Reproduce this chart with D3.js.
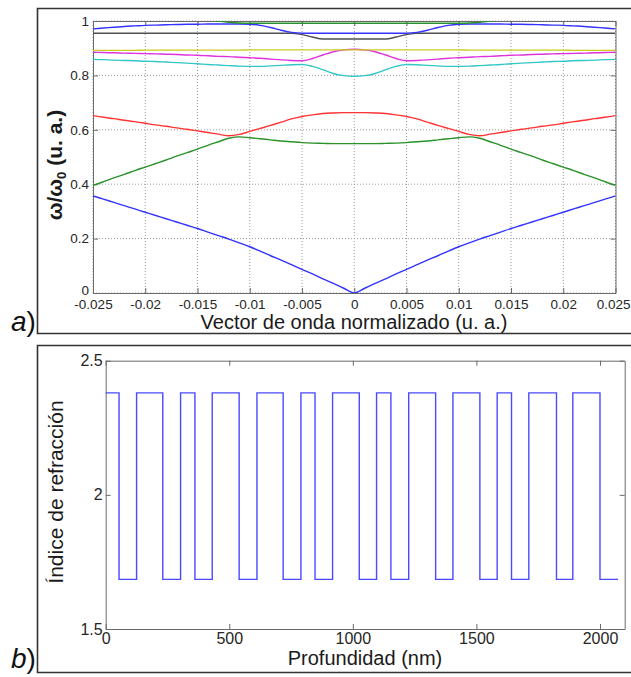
<!DOCTYPE html>
<html>
<head>
<meta charset="utf-8">
<script src="https://cdn.jsdelivr.net/npm/d3@7"></script>
<style>
  html, body { margin: 0; padding: 0; background: #fff; }
  svg { display: block; }
  text { font-family: "Liberation Sans", Arial, sans-serif; }
</style>
</head>
<body>
<svg id="fig" width="631" height="677"></svg>
<script>
// ---------------- DATA ----------------
// (a) dispersion diagram: normalized wave vector and nine bands
const waveVector = [-0.025,-0.024,-0.023,-0.022,-0.021,-0.020,-0.019,-0.018,-0.017,-0.016,-0.015,-0.014,-0.013,-0.012,-0.011,-0.010,-0.009,-0.008,-0.007,-0.006,-0.005,-0.004,-0.003,-0.002,-0.001,0,
  0.001,0.002,0.003,0.004,0.005,0.006,0.007,0.008,0.009,0.010,0.011,0.012,0.013,0.014,0.015,0.016,0.017,0.018,0.019,0.020,0.021,0.022,0.023,0.024,0.025];

const band1 = [0.357,0.345,0.333,0.321,0.309,0.297,0.285,0.273,0.261,0.249,0.237,0.224,0.211,0.198,0.184,0.170,0.154,0.137,0.121,0.104,0.087,0.070,0.052,0.035,0.0175,0,
  0.0175,0.035,0.052,0.070,0.087,0.104,0.121,0.137,0.154,0.170,0.184,0.198,0.211,0.224,0.237,0.249,0.261,0.273,0.285,0.297,0.309,0.321,0.333,0.345,0.357];

const band2 = [0.396,0.409,0.423,0.436,0.450,0.463,0.476,0.489,0.503,0.516,0.529,0.543,0.556,0.569,0.574,0.571,0.567,0.563,0.559,0.556,0.553,0.551,0.550,0.549,0.549,0.549,
  0.549,0.549,0.550,0.551,0.553,0.556,0.559,0.563,0.567,0.571,0.574,0.569,0.556,0.543,0.529,0.516,0.503,0.489,0.476,0.463,0.450,0.436,0.423,0.409,0.396];

const band3 = [0.652,0.646,0.641,0.635,0.630,0.624,0.618,0.613,0.607,0.602,0.596,0.590,0.584,0.578,0.583,0.594,0.605,0.616,0.628,0.640,0.649,0.655,0.660,0.662,0.663,0.663,
  0.663,0.662,0.660,0.655,0.649,0.640,0.628,0.616,0.605,0.594,0.583,0.578,0.584,0.590,0.596,0.602,0.607,0.613,0.618,0.624,0.630,0.635,0.641,0.646,0.652];

const band4 = [0.859,0.858,0.856,0.855,0.854,0.852,0.851,0.849,0.847,0.845,0.843,0.840,0.838,0.836,0.834,0.833,0.833,0.835,0.837,0.839,0.840,0.833,0.821,0.807,0.799,0.797,
  0.799,0.807,0.821,0.833,0.840,0.839,0.837,0.835,0.833,0.833,0.834,0.836,0.838,0.840,0.843,0.845,0.847,0.849,0.851,0.852,0.854,0.855,0.856,0.858,0.859];

const band5 = [0.885,0.884,0.883,0.882,0.881,0.880,0.879,0.878,0.877,0.875,0.874,0.872,0.870,0.869,0.867,0.865,0.863,0.860,0.857,0.855,0.854,0.862,0.875,0.887,0.894,0.896,
  0.894,0.887,0.875,0.862,0.854,0.855,0.857,0.860,0.863,0.865,0.867,0.869,0.870,0.872,0.874,0.875,0.877,0.878,0.879,0.880,0.881,0.882,0.883,0.884,0.885];

const band6 = [0.892,0.892,0.892,0.892,0.892,0.893,0.893,0.893,0.893,0.893,0.893,0.893,0.893,0.893,0.893,0.894,0.894,0.894,0.894,0.894,0.894,0.894,0.894,0.894,0.894,0.894,
  0.894,0.894,0.894,0.894,0.894,0.894,0.894,0.894,0.894,0.894,0.893,0.893,0.893,0.893,0.893,0.893,0.893,0.893,0.893,0.893,0.892,0.892,0.892,0.892,0.892];

const band7 = [0.955,0.955,0.955,0.955,0.955,0.955,0.955,0.955,0.955,0.955,0.955,0.955,0.955,0.955,0.955,0.955,0.955,0.955,0.955,0.955,0.950,0.941,0.934,0.934,0.934,0.934,
  0.934,0.934,0.934,0.941,0.950,0.955,0.955,0.955,0.955,0.955,0.955,0.955,0.955,0.955,0.955,0.955,0.955,0.955,0.955,0.955,0.955,0.955,0.955,0.955,0.955];

const band8 = [0.971,0.974,0.977,0.980,0.982,0.984,0.985,0.986,0.987,0.988,0.988,0.989,0.989,0.989,0.989,0.988,0.984,0.976,0.966,0.958,0.955,0.955,0.955,0.955,0.955,0.955,
  0.955,0.955,0.955,0.955,0.955,0.958,0.966,0.976,0.984,0.988,0.989,0.989,0.989,0.989,0.988,0.988,0.987,0.986,0.985,0.984,0.982,0.980,0.977,0.974,0.971];

const band9 = [null,null,null,null,null,null,null,null,null,null,1.012,1.005,0.9995,0.995,0.9925,0.9915,0.9915,0.9915,0.9915,0.9915,0.9915,0.9915,0.9915,0.9915,0.9915,0.9915,
  0.9915,0.9915,0.9915,0.9915,0.9915,0.9915,0.9915,0.9915,0.9915,0.9915,0.9925,0.995,0.9995,1.005,1.012,null,null,null,null,null,null,null,null,null,null];

const bandColors = ["#3333ff","#2a922a","#ff3333","#33c6c6","#dd33dd","#cccc1a","#505050","#3333ff","#2a922a"];

const xTicksA = [-0.025,-0.02,-0.015,-0.01,-0.005,0,0.005,0.01,0.015,0.02,0.025];
const xTickLabelsA = ["-0.025","-0.02","-0.015","-0.01","-0.005","0","0.005","0.01","0.015","0.02","0.025"];
const yTicksA = [0,0.2,0.4,0.6,0.8,1];
const yTickLabelsA = ["0","0.2","0.4","0.6","0.8","1"];

// (b) refractive index profile: interface depths (nm) and index of each layer
const interfaceDepth = [0,54,125,231,303,361,431,540,612,718,790,847,918,1026,1096,1154,1226,1335,1405,1514,1584,1642,1712,1824,1890,2000,2073];
const layerIndex = [2.38,1.685,2.38,1.685,2.38,1.685,2.38,1.685,2.38,1.685,2.38,1.685,2.38,1.685,2.38,1.685,2.38,1.685,2.38,1.685,2.38,1.685,2.38,1.685,2.38,1.685];

const xTicksB = [0,500,1000,1500,2000];
const xTickLabelsB = ["0","500","1000","1500","2000"];
const yTicksB = [1.5,2,2.5];
const yTickLabelsB = ["1.5","2","2.5"];

// ---------------- DRAWING ----------------
const svg = d3.select("#fig");
svg.append("rect").attr("width",631).attr("height",677).attr("fill","#fff");

const axisColor = "#6a6a6a";
const textColor = "#262626";

// outer frames
function frame(x0,y0,x1,y1){
  svg.append("path")
    .attr("d",`M${x1},${y0}H${x0}V${y1}H${x1}`)
    .attr("fill","none").attr("stroke","#333").attr("stroke-width",1.6);
}
frame(37.5,8.5,631,333.5);
frame(37.5,345.5,631,672.5);

// ===== Panel a =====
const xA = d3.scaleLinear().domain([-0.025,0.025]).range([93,615.5]);
const yA = d3.scaleLinear().domain([0,1]).range([293,21]);

const gA = svg.append("g");
// grid
gA.append("g").selectAll("line").data(xTicksA).join("line")
  .attr("x1",d=>xA(d)).attr("x2",d=>xA(d)).attr("y1",yA(0)).attr("y2",yA(1))
  .attr("stroke","#9a9a9a").attr("stroke-width",1).attr("stroke-dasharray","1,2");
gA.append("g").selectAll("line").data(yTicksA).join("line")
  .attr("x1",xA(-0.025)).attr("x2",xA(0.025)).attr("y1",d=>yA(d)).attr("y2",d=>yA(d))
  .attr("stroke","#9a9a9a").attr("stroke-width",1).attr("stroke-dasharray","1,2");

function styleAxis(g, fs){
  g.select(".domain").attr("stroke",axisColor).attr("stroke-width",1);
  g.selectAll(".tick line").attr("stroke",axisColor);
  g.selectAll(".tick text").attr("fill",textColor).attr("font-size",fs).attr("font-family","'Liberation Sans', Arial, sans-serif");
}

const axBA = gA.append("g").attr("transform",`translate(0,${yA(0)})`)
  .call(d3.axisBottom(xA).tickValues(xTicksA).tickFormat((d,i)=>xTickLabelsA[i]).tickSizeInner(-5).tickSizeOuter(0).tickPadding(6));
styleAxis(axBA,13.5);
// keep the rightmost label inside the picture
axBA.selectAll(".tick text").filter((d,i)=>i===xTicksA.length-1)
  .attr("text-anchor","end").attr("x",630-xA(0.025));
const axTA = gA.append("g").attr("transform",`translate(0,${yA(1)})`)
  .call(d3.axisTop(xA).tickValues(xTicksA).tickFormat("").tickSizeInner(-5).tickSizeOuter(0));
styleAxis(axTA,13.5);
const axLA = gA.append("g").attr("transform",`translate(${xA(-0.025)},0)`)
  .call(d3.axisLeft(yA).tickValues(yTicksA).tickFormat((d,i)=>yTickLabelsA[i]).tickSizeInner(-5).tickSizeOuter(0).tickPadding(4));
styleAxis(axLA,13.5);
// the "0" label sits just above the first x label, as in the original
axLA.selectAll(".tick text").filter((d,i)=>i===0).attr("y",-3);
const axRA = gA.append("g").attr("transform",`translate(${xA(0.025)},0)`)
  .call(d3.axisRight(yA).tickValues(yTicksA).tickFormat("").tickSizeInner(-5).tickSizeOuter(0));
styleAxis(axRA,13.5);

// clip
svg.append("clipPath").attr("id","clipA").append("rect")
  .attr("x",xA(-0.025)).attr("y",yA(1)).attr("width",xA(0.025)-xA(-0.025)).attr("height",yA(0)-yA(1));

const bands = [band1,band2,band3,band4,band5,band6,band7,band8,band9];
const lineA = d3.line()
  .defined(d=>d[1]!==null)
  .x(d=>xA(d[0])).y(d=>yA(d[1]))
  .curve(d3.curveMonotoneX);
const gLines = gA.append("g").attr("clip-path","url(#clipA)");
bands.forEach((b,i)=>{
  gLines.append("path")
    .attr("d",lineA(waveVector.map((k,j)=>[k,b[j]])))
    .attr("fill","none").attr("stroke",bandColors[i]).attr("stroke-width",1.4);
});

// labels
svg.append("text").attr("x",354).attr("y",329).attr("text-anchor","middle")
  .attr("font-size",20).attr("fill","#1a1a1a").text("Vector de onda normalizado (u. a.)");
const yl = svg.append("text").attr("transform","translate(62,165) rotate(-90)")
  .attr("text-anchor","middle").attr("font-size",21).attr("font-weight","bold").attr("fill","#1a1a1a");
yl.append("tspan").text("ω/ω");
yl.append("tspan").attr("font-size",13).attr("dy",4).text("0");
yl.append("tspan").attr("dy",-4).text(" (u. a.)");

const la = svg.append("text").attr("x",11).attr("y",331).attr("font-family","'Liberation Serif', 'DejaVu Serif', serif").attr("font-size",28).attr("fill","#111");
la.append("tspan").attr("font-style","italic").text("a");
la.append("tspan").text(")");

// ===== Panel b =====
const xB = d3.scaleLinear().domain([0,2100]).range([105.7,624.7]);
const yB = d3.scaleLinear().domain([1.5,2.5]).range([629,360.7]);
const gB = svg.append("g");

const axBB = gB.append("g").attr("transform",`translate(0,${yB(1.5)})`)
  .call(d3.axisBottom(xB).tickValues(xTicksB).tickFormat((d,i)=>xTickLabelsB[i]).tickSizeInner(-5).tickSizeOuter(0).tickPadding(4));
styleAxis(axBB,16);
const axTB = gB.append("g").attr("transform",`translate(0,${yB(2.5)})`)
  .call(d3.axisTop(xB).tickValues(xTicksB).tickFormat("").tickSizeInner(-5).tickSizeOuter(0));
styleAxis(axTB,16);
const axLB = gB.append("g").attr("transform",`translate(${xB(0)},0)`)
  .call(d3.axisLeft(yB).tickValues(yTicksB).tickFormat((d,i)=>yTickLabelsB[i]).tickSizeInner(-5).tickSizeOuter(0).tickPadding(3));
styleAxis(axLB,16);
const axRB = gB.append("g").attr("transform",`translate(${xB(2100)},0)`)
  .call(d3.axisRight(yB).tickValues(yTicksB).tickFormat("").tickSizeInner(-5).tickSizeOuter(0));
styleAxis(axRB,16);

const profilePts = layerIndex.map((n,i)=>[interfaceDepth[i],n]);
profilePts.push([interfaceDepth[interfaceDepth.length-1], layerIndex[layerIndex.length-1]]);
const lineB = d3.line().x(d=>xB(d[0])).y(d=>yB(d[1])).curve(d3.curveStepAfter);
gB.append("path").attr("d",lineB(profilePts))
  .attr("fill","none").attr("stroke","#4a4aff").attr("stroke-width",1.4);

svg.append("text").attr("x",365).attr("y",665).attr("text-anchor","middle")
  .attr("font-size",20).attr("fill","#1a1a1a").text("Profundidad (nm)");
svg.append("text").attr("transform","translate(63,492) rotate(-90)")
  .attr("text-anchor","middle").attr("font-size",21).attr("fill","#1a1a1a").text("Índice de refracción");

const lb = svg.append("text").attr("x",11).attr("y",668).attr("font-family","'Liberation Serif', 'DejaVu Serif', serif").attr("font-size",28).attr("fill","#111");
lb.append("tspan").attr("font-style","italic").text("b");
lb.append("tspan").text(")");
</script>
</body>
</html>
